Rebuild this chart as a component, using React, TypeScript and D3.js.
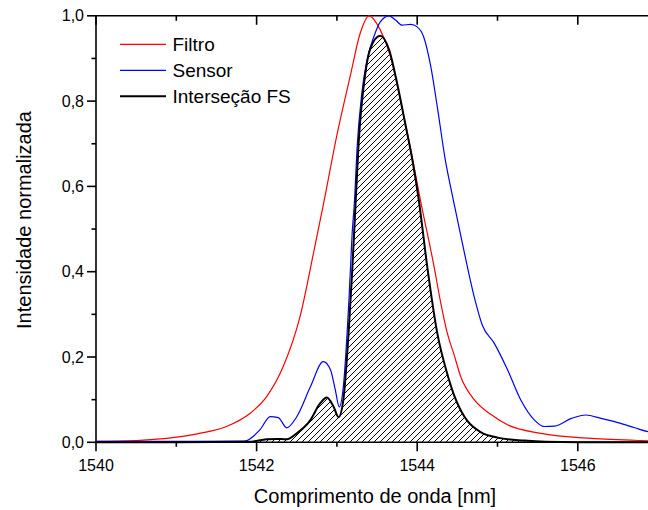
import React, { useEffect, useRef } from "react";
import * as d3 from "d3";

// Filtro (red)
const filtroX = [1540.0, 1540.5, 1541.0, 1541.29, 1541.625, 1541.92, 1542.125, 1542.33, 1542.54, 1542.71, 1542.85, 1543.0, 1543.17, 1543.29, 1543.4, 1543.54, 1543.67, 1543.79, 1543.92, 1544.04, 1544.21, 1544.29, 1544.375, 1544.46, 1544.54, 1544.71, 1544.92, 1545.125, 1545.54, 1546.17, 1546.79, 1547.0];
const filtroY = [0.002, 0.004, 0.012, 0.021, 0.037, 0.068, 0.107, 0.177, 0.294, 0.445, 0.575, 0.72, 0.862, 0.959, 1.0, 0.967, 0.904, 0.803, 0.686, 0.568, 0.412, 0.33, 0.256, 0.205, 0.155, 0.1, 0.065, 0.041, 0.021, 0.009, 0.004, 0.003];

// Sensor (blue)
const sensorX = [1540.0, 1541.0, 1541.85, 1542.04, 1542.17, 1542.27, 1542.375, 1542.5, 1542.67, 1542.83, 1542.92, 1542.98, 1543.03, 1543.08, 1543.15, 1543.19, 1543.22, 1543.25, 1543.31, 1543.375, 1543.46, 1543.54, 1543.65, 1543.73, 1543.81, 1543.92, 1544.0, 1544.08, 1544.17, 1544.25, 1544.35, 1544.45, 1544.58, 1544.71, 1544.81, 1544.96, 1545.125, 1545.29, 1545.46, 1545.58, 1545.71, 1545.92, 1546.1, 1546.29, 1546.5, 1546.71, 1546.875, 1547.0];
const sensorY = [0.002, 0.002, 0.003, 0.029, 0.06, 0.058, 0.034, 0.06, 0.13, 0.189, 0.17, 0.123, 0.083, 0.13, 0.334, 0.49, 0.568, 0.686, 0.818, 0.896, 0.951, 0.986, 1.0, 0.99, 0.978, 0.98, 0.974, 0.951, 0.88, 0.787, 0.662, 0.568, 0.451, 0.341, 0.275, 0.232, 0.17, 0.099, 0.052, 0.037, 0.038, 0.056, 0.064, 0.056, 0.046, 0.034, 0.025, 0.022];

// Interseção FS (black, hatched)
const interX = [1540.0, 1541.0, 1541.9, 1542.125, 1542.25, 1542.375, 1542.5, 1542.67, 1542.79, 1542.875, 1542.96, 1543.02, 1543.08, 1543.15, 1543.19, 1543.23, 1543.27, 1543.35, 1543.42, 1543.54, 1543.65, 1543.75, 1543.85, 1543.94, 1544.02, 1544.125, 1544.25, 1544.375, 1544.46, 1544.55, 1544.625, 1544.79, 1545.0, 1545.33, 1545.6, 1546.0, 1547.0];
const interY = [0.0, 0.0, 0.001, 0.007, 0.008, 0.007, 0.021, 0.052, 0.091, 0.105, 0.083, 0.059, 0.099, 0.27, 0.4, 0.55, 0.7, 0.86, 0.925, 0.953, 0.92, 0.842, 0.748, 0.662, 0.568, 0.412, 0.256, 0.16, 0.11, 0.072, 0.05, 0.024, 0.011, 0.004, 0.001, 0.0, 0.0];

const yTicks = [0, 0.2, 0.4, 0.6, 0.8, 1.0];
const yMinor = [0.1, 0.3, 0.5, 0.7, 0.9];
const xTicks = [1540, 1542, 1544, 1546];
const xMinor = [1541, 1543, 1545, 1547];

const legendItems = [
  { name: "Filtro", color: "#ff0000", width: 1.2 },
  { name: "Sensor", color: "#0000ff", width: 1.2 },
  { name: "Interseção FS", color: "#000000", width: 2 },
];

const App = () => {
  const svgRef = useRef(null);

  useEffect(() => {
    const W = 648;
    const left = 96, top = 15.8, bottom = 442.3;
    const svg = d3.select(svgRef.current);
    svg.selectAll("*").remove();
    svg.style("font-family", "'Liberation Sans', Arial, sans-serif");

    const x = d3.scaleLinear().domain([1540, 1547]).range([left, left + 7 * 80.3]);
    const y = d3.scaleLinear().domain([0, 1]).range([bottom, top]);

    const defs = svg.append("defs");
    const pat = defs
      .append("pattern")
      .attr("id", "hatch")
      .attr("patternUnits", "userSpaceOnUse")
      .attr("width", 6)
      .attr("height", 6);
    pat
      .append("path")
      .attr("d", "M-1,1 l2,-2 M0,6 l6,-6 M5,7 l2,-2")
      .attr("stroke", "#000")
      .attr("stroke-width", 1);
    defs
      .append("clipPath")
      .attr("id", "plotClip")
      .append("rect")
      .attr("x", left)
      .attr("y", top - 2)
      .attr("width", W - left)
      .attr("height", bottom - top + 4);

    // axes frame (curves are drawn over it)
    const ax = svg.append("g").attr("stroke", "#000").attr("stroke-width", 1.6);
    ax.append("line").attr("x1", left).attr("x2", W).attr("y1", bottom).attr("y2", bottom);
    ax.append("line").attr("x1", left).attr("x2", W).attr("y1", top).attr("y2", top);
    ax.append("line").attr("x1", left).attr("x2", left).attr("y1", top).attr("y2", bottom);

    yTicks.forEach((t) => ax.append("line").attr("x1", left - 9).attr("x2", left).attr("y1", y(t)).attr("y2", y(t)));
    yMinor.forEach((t) => ax.append("line").attr("x1", left - 4.5).attr("x2", left).attr("y1", y(t)).attr("y2", y(t)));
    xTicks.forEach((t) => {
      ax.append("line").attr("x1", x(t)).attr("x2", x(t)).attr("y1", bottom).attr("y2", bottom + 9);
      ax.append("line").attr("x1", x(t)).attr("x2", x(t)).attr("y1", top).attr("y2", top + 9);
    });
    xMinor.forEach((t) => {
      ax.append("line").attr("x1", x(t)).attr("x2", x(t)).attr("y1", bottom).attr("y2", bottom + 4.5);
      ax.append("line").attr("x1", x(t)).attr("x2", x(t)).attr("y1", top).attr("y2", top + 5);
    });

    const toPts = (xs, ys) => xs.map((v, i) => [v, ys[i]]);
    const line = d3
      .line()
      .x((d) => x(d[0]))
      .y((d) => y(d[1]))
      .curve(d3.curveMonotoneX);
    const area = d3
      .area()
      .x((d) => x(d[0]))
      .y0(y(0))
      .y1((d) => y(d[1]))
      .curve(d3.curveMonotoneX);

    const g = svg.append("g").attr("clip-path", "url(#plotClip)");
    const inter = toPts(interX, interY);
    g.append("path").attr("d", area(inter)).attr("fill", "url(#hatch)");
    g.append("path")
      .attr("d", line(toPts(filtroX, filtroY)))
      .attr("fill", "none")
      .attr("stroke", "#ff0000")
      .attr("stroke-width", 1.2);
    g.append("path")
      .attr("d", line(toPts(sensorX, sensorY)))
      .attr("fill", "none")
      .attr("stroke", "#0000ff")
      .attr("stroke-width", 1.2);
    g.append("path")
      .attr("d", line(inter))
      .attr("fill", "none")
      .attr("stroke", "#000")
      .attr("stroke-width", 2);

    const fmt = (v) => d3.format(".1f")(v).replace(".", ",");
    svg.append("g")
      .selectAll("text")
      .data(yTicks)
      .join("text")
      .attr("x", left - 12)
      .attr("y", (d) => y(d))
      .attr("dy", "0.35em")
      .attr("text-anchor", "end")
      .style("font-size", "16px")
      .text(fmt);
    svg.append("g")
      .selectAll("text")
      .data(xTicks)
      .join("text")
      .attr("x", (d) => x(d))
      .attr("y", 470.5)
      .attr("text-anchor", "middle")
      .style("font-size", "16px")
      .text((d) => d);

    svg.append("text")
      .attr("transform", "translate(31,220) rotate(-90)")
      .attr("text-anchor", "middle")
      .style("font-size", "20px")
      .text("Intensidade normalizada");
    svg.append("text")
      .attr("x", 375)
      .attr("y", 503)
      .attr("text-anchor", "middle")
      .style("font-size", "20px")
      .text("Comprimento de onda [nm]");

    // legend
    const lg = svg.append("g");
    legendItems.forEach((it, i) => {
      const ly = 44.3 + i * 26;
      lg.append("line")
        .attr("x1", 120)
        .attr("x2", 166)
        .attr("y1", ly)
        .attr("y2", ly)
        .attr("stroke", it.color)
        .attr("stroke-width", it.width);
      lg.append("text")
        .attr("x", 172.5)
        .attr("y", ly)
        .attr("dy", "0.35em")
        .style("font-size", "19px")
        .text(it.name);
    });
  }, []);

  return (
    <svg
      ref={svgRef}
      width={648}
      height={510}
      style={{ position: "absolute", left: 0, top: 0, background: "#fff" }}
    ></svg>
  );
};

export default App;
